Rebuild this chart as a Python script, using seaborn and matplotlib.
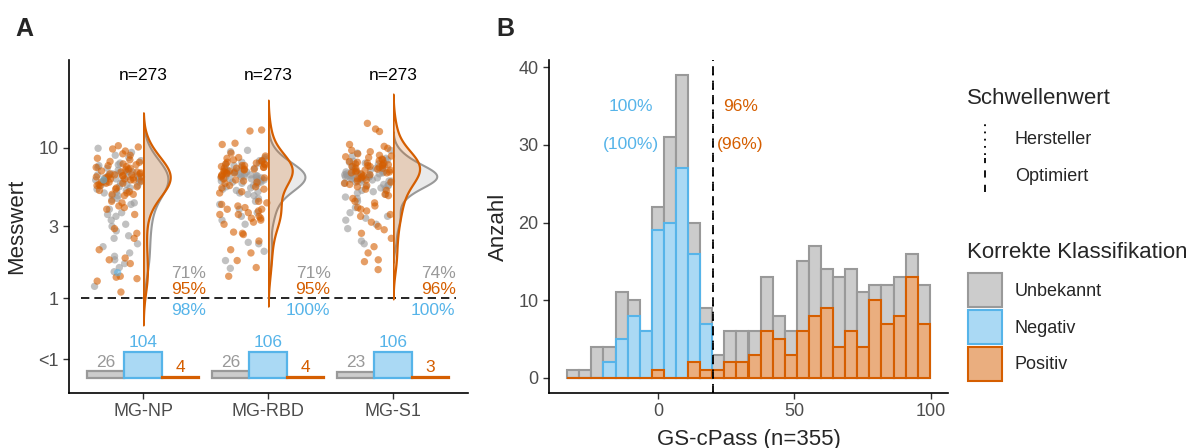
import numpy as np
import pandas as pd
import matplotlib

matplotlib.use("Agg")
import matplotlib.pyplot as plt
from matplotlib.lines import Line2D
from matplotlib.patches import Patch
from matplotlib.legend_handler import HandlerBase
import seaborn as sns


GROUPS = ["MG-NP", "MG-RBD", "MG-S1"]
N_TOTAL = [273, 273, 273]

UNK_ABOVE = {
    "MG-NP": [9.9, 9.3, 8.9, 8.6, 8.2, 7.9, 7.7, 7.4, 7.3, 7.1, 6.9, 6.9, 6.7, 6.6, 6.5,
              6.5, 6.3, 6.2, 6.2, 6.1, 6.0, 5.9, 5.9, 5.8, 5.6, 5.6, 5.5, 5.4, 5.2, 5.1,
              5.0, 4.8, 4.8, 4.6, 4.5, 4.3, 4.2, 3.9, 3.7, 3.6, 3.5, 3.3, 3.1, 3.0, 2.8,
              2.6, 2.5, 2.3, 2.2, 2.0, 1.9, 1.8, 1.7, 1.6, 1.5, 1.2, 7.6, 7.0, 6.8, 6.4,
              6.1, 5.7, 5.3, 6.6],
    "MG-RBD": [9.6, 9.4, 8.6, 8.4, 8.2, 8.0, 7.9, 7.7, 7.6, 7.4, 7.3, 7.2, 7.1, 7.0, 6.9,
               6.8, 6.8, 6.7, 6.6, 6.5, 6.5, 6.4, 6.4, 6.3, 6.3, 6.2, 6.1, 6.1, 6.0, 5.9,
               5.9, 5.8, 5.7, 5.6, 5.5, 5.4, 5.3, 5.2, 5.1, 5.0, 4.9, 4.8, 4.6, 4.4, 4.2,
               3.9, 3.5, 3.3, 3.1, 2.35, 2.3, 2.05, 1.78, 1.58, 6.6, 6.4, 6.2, 6.9, 7.1,
               5.8, 6.0, 6.3, 6.7, 3.7],
    "MG-S1": [9.6, 9.2, 8.8, 8.5, 8.3, 8.1, 7.9, 7.8, 7.6, 7.5, 7.3, 7.2, 7.1, 7.0, 6.9,
              6.8, 6.8, 6.7, 6.6, 6.6, 6.5, 6.5, 6.4, 6.4, 6.3, 6.3, 6.2, 6.2, 6.1, 6.0,
              6.0, 5.9, 5.8, 5.7, 5.6, 5.5, 5.4, 5.3, 5.1, 4.9, 4.7, 4.6, 4.4, 3.7, 3.5,
              3.3, 3.1, 2.9, 2.4, 2.3, 6.5, 6.4, 6.6, 6.3, 6.7, 6.2, 7.0, 5.9, 6.1, 7.4,
              5.6, 6.9, 8.0, 5.2, 4.0, 3.4, 5.0],
}
POS_ABOVE = {
    "MG-NP": [10.3, 10.1, 9.8, 9.5, 9.1, 8.9, 8.5, 8.3, 8.0, 7.8, 7.6, 7.5, 7.2, 7.1, 7.0,
              6.8, 6.7, 6.6, 6.5, 6.4, 6.4, 6.3, 6.2, 6.1, 6.0, 5.9, 5.8, 5.8, 5.7, 5.5,
              5.4, 5.3, 5.2, 5.0, 4.9, 4.8, 6.3, 6.6, 5.9, 6.1, 4.3, 6.4, 4.1, 4.0, 3.9,
              3.6, 2.9, 2.7, 2.5, 2.1, 1.85, 1.8, 1.7, 1.4, 1.38, 1.35, 1.3, 1.1, 8.1,
              7.4, 7.3, 6.9, 6.9, 6.5, 6.2, 6.0, 5.6, 5.6, 5.1, 4.9, 4.4, 7.7, 6.7],
    "MG-RBD": [13.1, 12.9, 10.7, 10.5, 9.2, 8.8, 8.6, 8.5, 8.3, 8.2, 8.0, 7.9, 7.8, 7.7, 7.6,
               7.5, 7.4, 7.3, 7.2, 7.1, 7.0, 6.9, 6.8, 6.7, 6.6, 6.5, 6.3, 6.2, 6.0, 5.8,
               5.6, 5.5, 5.3, 5.1, 5.0, 4.3, 4.2, 4.1, 4.0, 3.9, 3.8, 3.7, 3.6, 3.5, 3.4,
               3.3, 3.2, 3.1, 2.75, 2.7, 2.65, 2.4, 2.1, 2.0, 1.78, 1.6, 1.4, 7.6, 7.3,
               7.0, 7.4, 6.8, 8.1, 7.2, 6.4, 5.9, 5.4, 4.4, 3.6, 3.4, 3.9, 6.1, 7.8],
    "MG-S1": [14.5, 13.3, 12.8, 10.5, 10.2, 9.9, 9.6, 9.4, 9.1, 8.9, 8.7, 8.6, 8.4, 8.2, 8.1,
              7.9, 7.8, 7.7, 7.6, 7.5, 7.4, 7.3, 7.2, 7.1, 7.0, 6.9, 6.8, 6.6, 6.5, 6.3,
              6.1, 6.0, 5.8, 5.6, 5.5, 5.3, 4.8, 4.6, 4.3, 4.1, 4.0, 3.8, 3.6, 3.5, 3.0,
              2.85, 2.7, 2.5, 2.2, 2.0, 1.8, 1.75, 1.55, 8.0, 7.7, 7.5, 7.3, 7.1, 6.8,
              8.3, 7.9, 6.7, 6.4, 5.9, 5.7, 5.2, 4.9, 4.4, 3.9, 3.2, 7.6, 6.9, 8.8, 6.2],
}
NEG_ABOVE = {"MG-NP": [6.1, 1.48], "MG-RBD": [], "MG-S1": []}

# counts below 1
BELOW_UNK = [26, 26, 23]
BELOW_NEG = [104, 106, 106]
BELOW_POS = [4, 4, 3]

PCT_UNK = [71, 71, 74]
PCT_POS = [95, 95, 96]
PCT_NEG = [98, 100, 100]

# panel B histogram (30 bins)
BIN_LEFT = -33.5
BIN_WIDTH = 4.44
HIST_ALL = [1, 1, 4, 4, 11, 10, 6, 22, 31, 39, 20, 9, 3, 6, 6,
            6, 13, 8, 6, 15, 17, 14, 13, 14, 11, 12, 12, 13, 16, 12]
HIST_NEG = [0, 0, 0, 2, 5, 8, 6, 19, 20, 27, 16, 7, 0, 0, 0,
            0, 0, 0, 0, 0, 0, 0, 0, 0, 0, 0, 0, 0, 0, 0]
HIST_POS = [0, 0, 0, 0, 0, 0, 0, 1, 0, 0, 2, 1, 1, 2, 2,
            3, 6, 5, 3, 6, 8, 9, 4, 6, 4, 10, 7, 8, 13, 7]
THRESH_HERSTELLER = 20
THRESH_OPTIMIERT = 20
ACC_NEG = ["100%", "(100%)"]
ACC_POS = ["96%", "(96%)"]

GREY, BLUE, ORANGE = "#999999", "#56B4E9", "#D55E00"
GREY_F, BLUE_F, ORANGE_F = "#CCCCCC", "#AAD9F4", "#EAAE7F"
TICK_C = "#4D4D4D"

LT1 = -0.405          # position of the "<1" row (log10 units)
BAR_BASE = -0.529
BAR_SCALE = 0.00165   # log10 units per count
YLIM_A = (-0.629, 1.582)


class VLineHandler(HandlerBase):
    def create_artists(self, legend, orig_handle, xdescent, ydescent, width, height, fontsize, trans):
        x = width / 2 - xdescent
        line = Line2D([x, x], [-ydescent, height - ydescent])
        line.update_from(orig_handle)
        line.set_transform(trans)
        return [line]


def main() -> None:
    sns.set_style("ticks")
    plt.rcParams["font.family"] = ["Liberation Sans", "DejaVu Sans"]
    np.random.seed(7)

    fig = plt.figure(figsize=(11.93, 4.48), dpi=100)
    ax = fig.add_axes([69 / 1193, 55 / 448, 399 / 1193, 333 / 448])
    bx = fig.add_axes([549 / 1193, 55 / 448, 399 / 1193, 333 / 448])

    # ---- panel A: strips
    for vals_map, color in [(UNK_ABOVE, GREY), (POS_ABOVE, ORANGE), (NEG_ABOVE, BLUE)]:
        rows = [(g, np.log10(v)) for g in GROUPS for v in vals_map[g]]
        df = pd.DataFrame(rows, columns=["group", "log"])
        df["slot"] = "pts"
        sns.stripplot(data=df, x="group", y="log", hue="slot", hue_order=["pts", "dens"],
                      order=GROUPS, palette={"pts": color, "dens": color}, dodge=True,
                      jitter=0.38, size=5.3, alpha=0.6, linewidth=0, legend=False, ax=ax)

    ax.set_xlim(-0.594, 2.60)
    ax.set_ylim(*YLIM_A)

    # half densities to the right of each category
    insets = []
    for i, g in enumerate(GROUPS):
        ins = ax.inset_axes([i, YLIM_A[0], 0.5, YLIM_A[1] - YLIM_A[0]], transform=ax.transData)
        sns.kdeplot(y=np.log10(UNK_ABOVE[g]), ax=ins, fill=True, color=GREY, alpha=0.2,
                    linewidth=1.5, cut=2.2)
        sns.kdeplot(y=np.log10(POS_ABOVE[g]), ax=ins, fill=True, color=ORANGE, alpha=0.2,
                    linewidth=1.6, cut=2.2)
        ins.set_ylim(*YLIM_A)
        ins.set_xlabel("")
        ins.set_ylabel("")
        ins.set_xticks([])
        ins.set_yticks([])
        ins.set_axis_off()
        ins.patch.set_alpha(0)
        insets.append(ins)
    dmax = max(c.get_paths()[0].vertices[:, 0].max() for ins in insets for c in ins.collections)
    for ins in insets:
        ins.set_xlim(0, dmax * 0.5 / 0.35)

    # bars for values below 1
    for i in range(len(GROUPS)):
        for off, cnt, fc, ec in [(-0.3, BELOW_UNK[i], GREY_F, GREY),
                                 (0.0, BELOW_NEG[i], BLUE_F, BLUE),
                                 (0.3, BELOW_POS[i], ORANGE_F, ORANGE)]:
            ax.bar(i + off, cnt * BAR_SCALE, width=0.3, bottom=BAR_BASE, color=fc,
                   edgecolor=ec, linewidth=1.6)
            ax.text(i + off, BAR_BASE + cnt * BAR_SCALE + 0.012, str(cnt), color=ec,
                    ha="center", va="bottom", fontsize=12.5)
        ax.text(i + 0.5, 0.166, f"{PCT_UNK[i]}%", color=GREY, ha="right", va="center", fontsize=12.5)
        ax.text(i + 0.5, 0.060, f"{PCT_POS[i]}%", color=ORANGE, ha="right", va="center", fontsize=12.5)
        ax.text(i + 0.5, -0.082, f"{PCT_NEG[i]}%", color=BLUE, ha="right", va="center", fontsize=12.5)
        ax.text(i, 1.476, f"n={N_TOTAL[i]}", color="black", ha="center", va="center", fontsize=12.5)

    ax.hlines(0, -0.5, 2.5, colors="black", linestyles=(0, (5, 3)), linewidth=1.2)

    ax.set_yticks([LT1, 0, np.log10(3), 1])
    ax.set_yticklabels(["<1", "1", "3", "10"])
    ax.set_xticks(range(len(GROUPS)))
    ax.set_xticklabels(GROUPS)
    ax.set_xlabel("")
    ax.set_ylabel("Messwert", fontsize=16, labelpad=8)

    # ---- panel B: histograms
    edges = BIN_LEFT + BIN_WIDTH * np.arange(len(HIST_ALL) + 1)
    centers = edges[:-1] + BIN_WIDTH / 2
    for counts, fc, ec in [(HIST_ALL, GREY_F, GREY), (HIST_NEG, BLUE_F, BLUE),
                           (HIST_POS, ORANGE_F, ORANGE)]:
        hdf = pd.DataFrame({"score": centers, "n": counts})
        sns.histplot(data=hdf, x="score", weights="n", binwidth=BIN_WIDTH,
                     binrange=(edges[0], edges[-1]), facecolor=fc, edgecolor=ec,
                     linewidth=1.5, alpha=1, ax=bx)
    bx.axvline(THRESH_HERSTELLER, color="black", linestyle=(0, (1, 3)), linewidth=1.3)
    bx.axvline(THRESH_OPTIMIERT, color="black", linestyle=(0, (4, 4)), linewidth=1.3)
    bx.text(-10, 35, ACC_NEG[0], color=BLUE, ha="center", va="center", fontsize=12.5)
    bx.text(-10, 30, ACC_NEG[1], color=BLUE, ha="center", va="center", fontsize=12.5)
    bx.text(30, 35, ACC_POS[0], color=ORANGE, ha="center", va="center", fontsize=12.5)
    bx.text(30, 30, ACC_POS[1], color=ORANGE, ha="center", va="center", fontsize=12.5)
    bx.set_xlim(-40.2, 106.4)
    bx.set_ylim(-1.95, 40.95)
    bx.set_xticks([0, 50, 100])
    bx.set_yticks([0, 10, 20, 30, 40])
    bx.set_xlabel("GS-cPass (n=355)", fontsize=16, labelpad=6)
    bx.set_ylabel("Anzahl", fontsize=16, labelpad=7)

    for a in (ax, bx):
        sns.despine(ax=a)
        a.tick_params(labelsize=13, labelcolor=TICK_C, color="#333333", length=4, width=1)
        for s in ("left", "bottom"):
            a.spines[s].set_linewidth(1.2)
            a.spines[s].set_color("black")

    fig.text(24 / 1193, 1 - 29 / 448, "A", fontsize=18, fontweight="bold", ha="center", va="center")
    fig.text(505 / 1193, 1 - 29 / 448, "B", fontsize=18, fontweight="bold", ha="center", va="center")

    # ---- legends (titles placed as text, keys as two figure legends)
    leg_kws = dict(loc="upper left", frameon=False, fontsize=13, handlelength=1.9,
                   handleheight=2.54, labelspacing=0.15, handletextpad=0.7,
                   borderpad=0, borderaxespad=0)
    fig.text(967 / 1193, 1 - 99 / 448, "Schwellenwert", fontsize=16, ha="left", va="center")
    lines = [Line2D([], [], color="black", linestyle=(0, (1, 3)), linewidth=1.3),
             Line2D([], [], color="black", linestyle=(0, (4, 4)), linewidth=1.3)]
    fig.legend(handles=lines, labels=["Hersteller", "Optimiert"],
               bbox_to_anchor=(968 / 1193, 1 - 121 / 448),
               handler_map={Line2D: VLineHandler()}, **leg_kws)

    fig.text(967 / 1193, 1 - 252 / 448, "Korrekte Klassifikation", fontsize=16, ha="left", va="center")
    patches = [Patch(facecolor=GREY_F, edgecolor=GREY, linewidth=1.5),
               Patch(facecolor=BLUE_F, edgecolor=BLUE, linewidth=1.5),
               Patch(facecolor=ORANGE_F, edgecolor=ORANGE, linewidth=1.5)]
    fig.legend(handles=patches, labels=["Unbekannt", "Negativ", "Positiv"],
               bbox_to_anchor=(968 / 1193, 1 - 273 / 448), **leg_kws)

    fig.savefig("out.png", dpi=100)
    plt.close(fig)


if __name__ == "__main__":
    main()
